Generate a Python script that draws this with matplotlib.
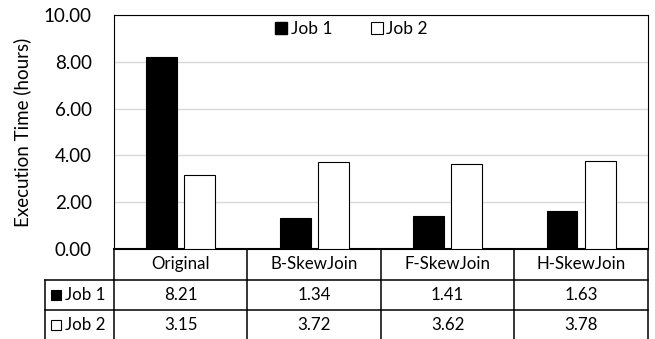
import matplotlib
matplotlib.use('Agg')
import numpy as np
import matplotlib.pyplot as plt
from matplotlib.patches import Patch

categories = ['Original', 'B-SkewJoin', 'F-SkewJoin', 'H-SkewJoin']
job1 = [8.21, 1.34, 1.41, 1.63]
job2 = [3.15, 3.72, 3.62, 3.78]
series_names = ['Job 1', 'Job 2']
yticks = [0, 2, 4, 6, 8, 10]

plt.rcParams['font.family'] = ['Lato', 'DejaVu Sans']

fig = plt.figure(figsize=(6.55, 3.39), dpi=100)
ax = fig.add_axes([0.174, 0.2655, 0.815, 0.6903])

ind = np.arange(len(categories))
width = 0.232
off = 0.143

ax.bar(ind - off, job1, width, color='black', edgecolor='black', linewidth=0.8, zorder=3)
ax.bar(ind + off, job2, width, color='white', edgecolor='black', linewidth=0.8, zorder=3)

ax.set_xlim(-0.5, len(categories) - 0.5)
ax.set_ylim(0, 10)
ax.set_yticks(yticks)
ax.set_yticklabels(['%.2f' % v for v in yticks], fontsize=13.5)
ax.tick_params(axis='y', length=0, pad=16)
ax.set_xticks([])
ax.yaxis.grid(True, color='#d9d9d9', linewidth=1.0, zorder=0)
ax.set_ylabel('Execution Time (hours)', fontsize=13.5, labelpad=9)

for side in ['top', 'left', 'right']:
    ax.spines[side].set_linewidth(0.8)
ax.spines['bottom'].set_linewidth(1.5)

handles = [Patch(facecolor='black', edgecolor='black'),
           Patch(facecolor='white', edgecolor='black', linewidth=0.8)]
ax.legend(handles, series_names, loc='center', bbox_to_anchor=(0.445, 0.94),
          ncol=2, frameon=False, fontsize=12.5, handlelength=0.7, handleheight=0.7,
          handletextpad=0.2, columnspacing=2.2, borderaxespad=0)

# data table under the plot, in axes fraction coordinates
ph = 234.0
row_h = [31 / ph, 30 / ph, 30 / ph]
row_top = [0, -row_h[0], -row_h[0] - row_h[1]]
label_left = -69 / 534.0
col_edges = np.linspace(0, 1, len(categories) + 1)
bottom = row_top[2] - row_h[2] - 0.01
tr = ax.transAxes
lw = 1.1

def hline(x0, x1, y):
    ax.plot([x0, x1], [y, y], color='black', lw=lw, transform=tr, clip_on=False)

def vline(x, y0, y1):
    ax.plot([x, x], [y0, y1], color='black', lw=lw, transform=tr, clip_on=False)

hline(0, 1, row_top[1])
hline(label_left, 0, row_top[1])
hline(label_left, 1, row_top[2])
hline(label_left, 1, bottom)
for x in col_edges:
    vline(x, 0, bottom)
vline(label_left, row_top[1], bottom)

fs = 12.2
for i, name in enumerate(categories):
    cx = (col_edges[i] + col_edges[i + 1]) / 2
    ax.text(cx, row_top[0] - row_h[0] / 2, name, ha='center', va='center',
            fontsize=fs, transform=tr)
    ax.text(cx, row_top[1] - row_h[1] / 2, '%.2f' % job1[i], ha='center', va='center',
            fontsize=fs, transform=tr)
    ax.text(cx, row_top[2] - row_h[2] / 2, '%.2f' % job2[i], ha='center', va='center',
            fontsize=fs, transform=tr)

# legend keys in the row labels
key_w = 10 / 534.0
key_h = 10 / ph
for r, (name, fc) in enumerate(zip(series_names, ['black', 'white'])):
    yc = row_top[r + 1] - row_h[r + 1] / 2
    x0 = label_left + 6 / 534.0
    ax.add_patch(plt.Rectangle((x0, yc - key_h / 2), key_w, key_h, facecolor=fc,
                               edgecolor='black', linewidth=0.8, transform=tr, clip_on=False))
    ax.text(x0 + key_w + 4 / 534.0, yc, name, ha='left', va='center', fontsize=fs,
            transform=tr)

fig.savefig('out.png', dpi=100)
